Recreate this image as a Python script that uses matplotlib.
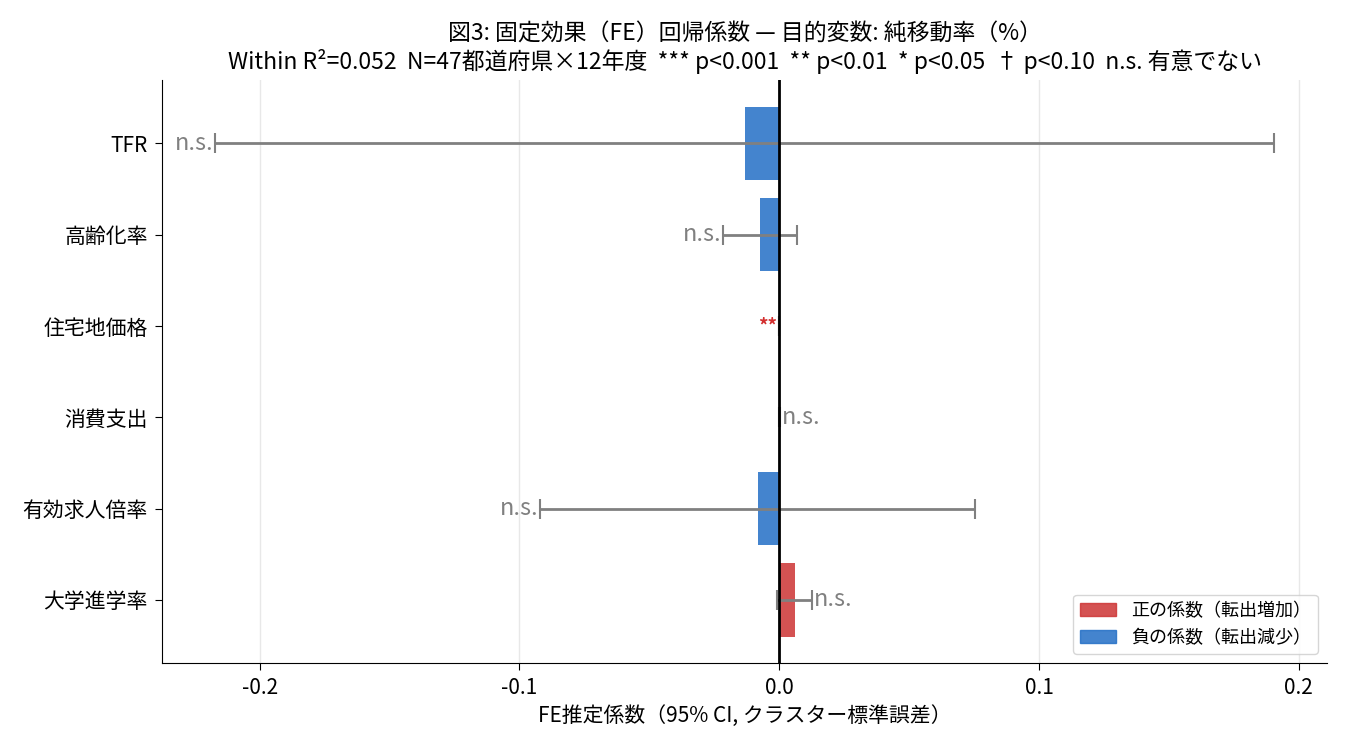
import matplotlib
matplotlib.use("Agg")
import matplotlib.pyplot as plt
from matplotlib.patches import Patch
import numpy as np

plt.rcParams['font.family'] = ['Noto Sans CJK JP', 'DejaVu Sans']
plt.rcParams['axes.unicode_minus'] = False

variables = ["TFR", "高齢化率", "住宅地価格", "消費支出", "有効求人倍率", "大学進学率"]
coef = [-0.0131, -0.0073, -0.0001, 0.0001, -0.0083, 0.0062]
ci_low = [-0.2172, -0.0216, -0.0002, 0.0000, -0.0920, -0.0008]
ci_high = [0.1905, 0.0069, 0.0000, 0.0002, 0.0753, 0.0127]
sig = ["n.s.", "n.s.", "**", "n.s.", "n.s.", "n.s."]

pos_color = '#cd3434'
neg_color = '#236fc6'

fig, ax = plt.subplots(figsize=(13.5, 7.5), dpi=100)
y = np.arange(len(variables))[::-1]
coef_a = np.array(coef)
lo = np.array(ci_low)
hi = np.array(ci_high)
colors = [pos_color if c > 0 else neg_color for c in coef]

ax.barh(y, coef_a, height=0.8, color=colors, alpha=0.85, zorder=2)
ax.errorbar(coef_a, y, xerr=[coef_a - lo, hi - coef_a], fmt='none',
            ecolor='gray', elinewidth=2, capsize=7.5, capthick=1.5, zorder=3)
ax.axvline(0, color='black', linewidth=2, zorder=4)

for yi, c, l, h, s in zip(y, coef_a, lo, hi, sig):
    if s == "n.s.":
        kw = dict(color='gray', fontsize=17)
    else:
        kw = dict(color='#d32f2f', fontsize=13.5, fontweight='bold')
    if c < 0:
        ax.annotate(s, (l, yi), xytext=(-1, 0), textcoords='offset points',
                    ha='right', va='center', **kw)
    else:
        ax.annotate(s, (h, yi), xytext=(1.5, 0), textcoords='offset points',
                    ha='left', va='center', **kw)

ax.set_yticks(y)
ax.set_yticklabels(variables, fontsize=15)
ax.tick_params(axis='both', length=5.25, pad=5)
ax.tick_params(axis='x', labelsize=15)
ax.set_xticks([-0.2, -0.1, 0.0, 0.1, 0.2])
ax.grid(axis='x', color='#e8e8e8', linewidth=1, zorder=0)
ax.set_axisbelow(True)
for sp in ['top', 'right']:
    ax.spines[sp].set_visible(False)
ax.set_xlabel("FE推定係数（95% CI, クラスター標準誤差）", fontsize=15, labelpad=4)
ax.set_title("図3: 固定効果（FE）回帰係数 — 目的変数: 純移動率（%）\n"
             "Within R²=0.052  N=47都道府県×12年度  *** p<0.001  ** p<0.01  * p<0.05  † p<0.10  n.s. 有意でない",
             fontsize=16.5, linespacing=1.2, pad=8)

handles = [Patch(facecolor=pos_color, edgecolor=pos_color, alpha=0.85, label="正の係数（転出増加）"),
           Patch(facecolor=neg_color, edgecolor=neg_color, alpha=0.85, label="負の係数（転出減少）")]
ax.legend(handles=handles, loc='lower right', fontsize=13)

fig.subplots_adjust(left=0.12, right=0.983, top=0.893, bottom=0.116)
fig.savefig("out.png", dpi=100)
